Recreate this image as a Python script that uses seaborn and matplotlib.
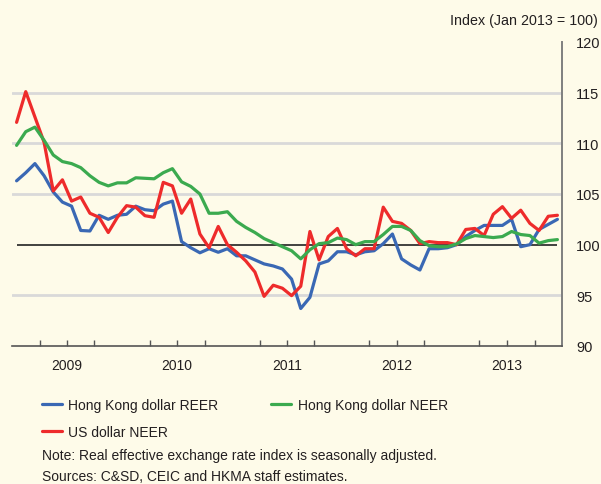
import numpy as np
import pandas as pd
import seaborn as sns
import matplotlib.pyplot as plt
from matplotlib.lines import Line2D

# Monthly index values, Jan 2009 - Dec 2013 (Jan 2013 = 100)
hkd_reer = [106.3, 107.1, 108.0, 106.8, 105.2, 104.2, 103.8, 101.4, 101.35, 102.9,
            102.5, 102.9, 103.0, 103.8, 103.45, 103.35, 104.0, 104.3, 100.3, 99.7,
            99.2, 99.6, 99.25, 99.6, 98.9, 98.9, 98.5, 98.1, 97.9, 97.6,
            96.6, 93.7, 94.8, 98.1, 98.4, 99.3, 99.3, 99.0, 99.3, 99.4,
            100.1, 101.05, 98.6, 98.0, 97.5, 99.6, 99.6, 99.7, 100.0, 100.8,
            101.4, 101.9, 101.9, 101.9, 102.5, 99.8, 100.0, 101.5, 102.0, 102.5]
hkd_neer = [109.8, 111.15, 111.6, 110.3, 108.85, 108.2, 108.0, 107.6, 106.8, 106.15,
            105.8, 106.1, 106.1, 106.6, 106.55, 106.5, 107.1, 107.5, 106.2, 105.75,
            105.0, 103.1, 103.1, 103.25, 102.3, 101.7, 101.2, 100.6, 100.2, 99.8,
            99.4, 98.6, 99.5, 100.1, 100.2, 100.65, 100.5, 100.0, 100.3, 100.3,
            101.0, 101.8, 101.8, 101.4, 100.4, 99.9, 99.8, 99.8, 100.07, 100.6,
            100.9, 100.8, 100.7, 100.8, 101.3, 101.0, 100.9, 100.15, 100.4, 100.5]
usd_neer = [112.07, 115.1, 112.6, 110.1, 105.3, 106.4, 104.3, 104.7, 103.1, 102.7,
            101.2, 102.7, 103.85, 103.7, 102.86, 102.7, 106.15, 105.8, 103.1, 104.5,
            101.05, 99.7, 101.8, 100.0, 99.25, 98.4, 97.3, 94.9, 96.0, 95.7,
            94.97, 95.9, 101.3, 98.5, 100.8, 101.6, 99.6, 98.9, 99.6, 99.6,
            103.7, 102.3, 102.1, 101.4, 100.1, 100.3, 100.2, 100.2, 100.0, 101.5,
            101.6, 100.9, 103.0, 103.75, 102.6, 103.4, 102.1, 101.4, 102.8, 102.9]
years = ["2009", "2010", "2011", "2012", "2013"]
series_names = ["Hong Kong dollar REER", "US dollar NEER", "Hong Kong dollar NEER"]
colors = ["#3A68B4", "#EE2B2B", "#3BAA4F"]

months = np.arange(len(hkd_reer))
df = pd.concat([
    pd.DataFrame({"month": months, "value": vals, "series": name})
    for name, vals in zip(series_names, [hkd_reer, usd_neer, hkd_neer])
])

bg = "#FEFBE9"
txt = "#231F20"
fs = 10
sns.set_theme(style="white")
plt.rcParams["font.family"] = ["Liberation Sans", "DejaVu Sans"]

fig = plt.figure(figsize=(6.01, 4.85), dpi=100, facecolor=bg)
ax = fig.add_axes([12 / 601, 1 - 347 / 485, 550 / 601, 304 / 485])
ax.set_facecolor(bg)

for v in [95, 105, 110, 115]:
    ax.axhline(v, color="#D9D9D9", lw=2, zorder=0)
ax.hlines(100, 0, len(months) - 1, color="#222222", lw=1.2, zorder=1)

sns.lineplot(data=df, x="month", y="value", hue="series", hue_order=series_names,
             palette=colors, lw=2.3, legend=False, ax=ax, zorder=3)

ax.set_xlim(-0.5, len(months) - 0.5)
ax.set_ylim(90, 120)
ax.set_xlabel("")
ax.set_ylabel("")

# axes styling
for s in ["top", "left"]:
    ax.spines[s].set_visible(False)
ax.spines["right"].set_color("#7F7F7F")
ax.spines["right"].set_linewidth(1.4)
ax.spines["bottom"].set_color("#555555")
ax.spines["bottom"].set_linewidth(1.2)

ax.yaxis.tick_right()
ax.set_yticks(range(90, 121, 5))
ax.tick_params(axis="y", length=0, pad=10, labelsize=fs + 0.5, labelcolor=txt)

ax.set_xticks(np.arange(-0.5, len(months), 12))
ax.set_xticks(np.arange(-0.5, len(months), 3), minor=True)
ax.tick_params(axis="x", which="major", direction="in", length=9, width=1.2,
               color="#555555", labelbottom=False)
ax.tick_params(axis="x", which="minor", direction="in", length=4, width=1.0,
               color="#555555", bottom=True)
for i, yr in enumerate(years):
    ax.text(5.5 + 12 * i, -0.0625, yr, transform=ax.get_xaxis_transform(),
            ha="center", va="center", fontsize=fs, color=txt)

fig.text(598 / 601, 1 - 21 / 485, "Index (Jan 2013 = 100)", ha="right", va="center",
         fontsize=fs + 0.3, color=txt)

handles = [Line2D([0], [0], color=c, lw=2.3) for c in colors]
fig.legend(handles, series_names, loc="upper left", ncol=2, frameon=False,
           bbox_to_anchor=(42 / 601, 1 - 399 / 485), borderaxespad=0, borderpad=0,
           handlelength=1.45, handletextpad=0.45, columnspacing=3.8,
           labelspacing=0.95, fontsize=fs, labelcolor=txt)

fig.text(42 / 601, 1 - 456 / 485, "Note: Real effective exchange rate index is seasonally adjusted.",
         ha="left", va="center", fontsize=fs, color=txt)
fig.text(42 / 601, 1 - 477 / 485, "Sources: C&SD, CEIC and HKMA staff estimates.",
         ha="left", va="center", fontsize=fs, color=txt)

fig.savefig("out.png", dpi=100, facecolor=bg)
